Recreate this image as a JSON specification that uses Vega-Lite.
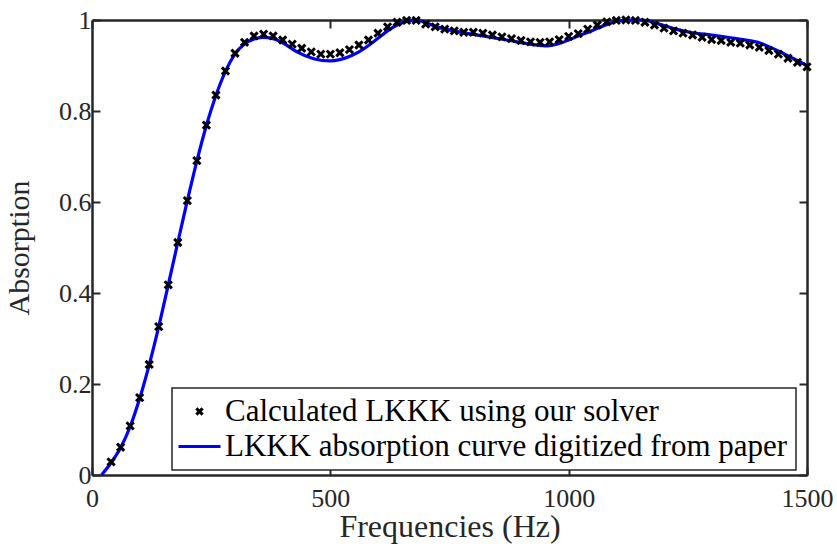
{
  "$schema": "https://vega.github.io/schema/vega-lite/v6.json",
  "width": 715,
  "height": 455,
  "autosize": {"type": "none"},
  "padding": {"left": 92, "top": 20, "right": 30, "bottom": 79},
  "background": "white",
  "config": {
    "view": {"stroke": null},
    "font": "Liberation Serif",
    "axis": {
      "domainColor": "#262626", "domainWidth": 2.5,
      "tickColor": "#262626", "tickWidth": 2, "tickSize": -8,
      "labelFont": "Liberation Serif", "labelFontSize": 26, "labelColor": "#262626", "labelFlush": false,
      "titleFont": "Liberation Serif", "titleFontSize": 32, "titleFontWeight": "normal", "titleColor": "#262626",
      "grid": false
    }
  },
  "datasets": {
    "paper": [
      {"f": 20, "a": 0.0}, {"f": 40, "a": 0.027}, {"f": 60, "a": 0.060}, {"f": 80, "a": 0.106},
      {"f": 100, "a": 0.168}, {"f": 120, "a": 0.242}, {"f": 140, "a": 0.326}, {"f": 160, "a": 0.418},
      {"f": 180, "a": 0.511}, {"f": 200, "a": 0.603}, {"f": 220, "a": 0.690}, {"f": 240, "a": 0.768},
      {"f": 260, "a": 0.834}, {"f": 280, "a": 0.887}, {"f": 300, "a": 0.925}, {"f": 320, "a": 0.947},
      {"f": 340, "a": 0.958}, {"f": 357, "a": 0.962}, {"f": 380, "a": 0.959}, {"f": 400, "a": 0.950},
      {"f": 430, "a": 0.930}, {"f": 465, "a": 0.915}, {"f": 500, "a": 0.910}, {"f": 520, "a": 0.913},
      {"f": 540, "a": 0.920}, {"f": 560, "a": 0.930}, {"f": 580, "a": 0.944}, {"f": 600, "a": 0.960},
      {"f": 620, "a": 0.976}, {"f": 640, "a": 0.989}, {"f": 660, "a": 0.997}, {"f": 680, "a": 1.0},
      {"f": 700, "a": 0.994}, {"f": 720, "a": 0.986}, {"f": 770, "a": 0.974}, {"f": 820, "a": 0.965},
      {"f": 870, "a": 0.956}, {"f": 925, "a": 0.946}, {"f": 955, "a": 0.943}, {"f": 985, "a": 0.950},
      {"f": 1020, "a": 0.965}, {"f": 1050, "a": 0.977}, {"f": 1085, "a": 0.992}, {"f": 1120, "a": 1.0},
      {"f": 1155, "a": 1.0}, {"f": 1190, "a": 0.991}, {"f": 1225, "a": 0.980}, {"f": 1260, "a": 0.972},
      {"f": 1300, "a": 0.967}, {"f": 1365, "a": 0.957}, {"f": 1400, "a": 0.950}, {"f": 1435, "a": 0.934},
      {"f": 1470, "a": 0.916}, {"f": 1500, "a": 0.900}
    ],
    "calc": [
      {"f": 40, "a": 0.029}, {"f": 60, "a": 0.061}, {"f": 80, "a": 0.108}, {"f": 100, "a": 0.170},
      {"f": 120, "a": 0.243}, {"f": 140, "a": 0.326}, {"f": 160, "a": 0.418}, {"f": 180, "a": 0.511},
      {"f": 200, "a": 0.603}, {"f": 220, "a": 0.691}, {"f": 240, "a": 0.769}, {"f": 260, "a": 0.835},
      {"f": 280, "a": 0.888}, {"f": 300, "a": 0.927}, {"f": 320, "a": 0.951}, {"f": 340, "a": 0.965},
      {"f": 360, "a": 0.969}, {"f": 380, "a": 0.965}, {"f": 400, "a": 0.956}, {"f": 420, "a": 0.947},
      {"f": 440, "a": 0.938}, {"f": 460, "a": 0.930}, {"f": 480, "a": 0.925}, {"f": 500, "a": 0.925},
      {"f": 520, "a": 0.928}, {"f": 540, "a": 0.935}, {"f": 560, "a": 0.945}, {"f": 580, "a": 0.956},
      {"f": 600, "a": 0.971}, {"f": 620, "a": 0.985}, {"f": 640, "a": 0.995}, {"f": 660, "a": 0.999},
      {"f": 680, "a": 0.999}, {"f": 700, "a": 0.991}, {"f": 720, "a": 0.985}, {"f": 740, "a": 0.980},
      {"f": 760, "a": 0.976}, {"f": 780, "a": 0.973}, {"f": 800, "a": 0.973}, {"f": 820, "a": 0.971},
      {"f": 840, "a": 0.967}, {"f": 860, "a": 0.963}, {"f": 880, "a": 0.959}, {"f": 900, "a": 0.955},
      {"f": 920, "a": 0.952}, {"f": 940, "a": 0.951}, {"f": 960, "a": 0.952}, {"f": 980, "a": 0.957},
      {"f": 1000, "a": 0.964}, {"f": 1020, "a": 0.970}, {"f": 1040, "a": 0.980}, {"f": 1060, "a": 0.989},
      {"f": 1080, "a": 0.996}, {"f": 1100, "a": 0.999}, {"f": 1120, "a": 1.0}, {"f": 1140, "a": 0.999},
      {"f": 1160, "a": 0.995}, {"f": 1180, "a": 0.989}, {"f": 1200, "a": 0.982}, {"f": 1220, "a": 0.976},
      {"f": 1240, "a": 0.971}, {"f": 1260, "a": 0.967}, {"f": 1280, "a": 0.962}, {"f": 1300, "a": 0.957},
      {"f": 1320, "a": 0.955}, {"f": 1340, "a": 0.951}, {"f": 1360, "a": 0.949}, {"f": 1380, "a": 0.945},
      {"f": 1400, "a": 0.940}, {"f": 1420, "a": 0.933}, {"f": 1440, "a": 0.925}, {"f": 1460, "a": 0.916},
      {"f": 1480, "a": 0.907}, {"f": 1500, "a": 0.897}
    ]
  },
  "layer": [
    {
      "data": {"name": "paper"},
      "mark": {"type": "line", "strokeWidth": 3.2, "interpolate": "monotone"},
      "encoding": {
        "x": {"field": "f", "type": "quantitative", "scale": {"domain": [0, 1500], "nice": false},
              "axis": {"orient": "bottom", "values": [0, 500, 1000, 1500], "format": "d", "title": "Frequencies (Hz)", "labelPadding": 18, "titlePadding": 0}},
        "y": {"field": "a", "type": "quantitative", "scale": {"domain": [0, 1], "nice": false},
              "axis": {"orient": "left", "values": [0, 0.2, 0.4, 0.6, 0.8, 1], "format": "~g", "title": "Absorption", "titleFontSize": 30, "labelPadding": 9, "titlePadding": 24}},
        "color": {
          "datum": "LKKK absorption curve digitized from paper",
          "type": "nominal",
          "scale": {"domain": ["Calculated LKKK using our solver", "LKKK absorption curve digitized from paper"], "range": ["#000000", "#0000ff"]},
          "legend": {
            "orient": "none", "legendX": 80, "legendY": 368, "title": null,
            "labelFont": "Liberation Serif", "labelFontSize": 31, "labelColor": "#000000", "labelLimit": 800,
            "strokeColor": "#262626", "fillColor": "white", "padding": 8,
            "symbolSize": 1764, "symbolType": "stroke", "symbolStrokeWidth": 3, "symbolOffset": 4, "rowPadding": 3, "labelOffset": 10,
            "encode": {
              "symbols": {"update": {
                "shape": {"signal": "datum.value === 'Calculated LKKK using our solver' ? 'M-1,-1L1,1M-1,1L1,-1' : 'stroke'"},
                "size": {"signal": "datum.value === 'Calculated LKKK using our solver' ? 40 : 1764"},
                "strokeWidth": {"signal": "datum.value === 'Calculated LKKK using our solver' ? 3 : 3.2"}
              }},
              "legend": {"update": {"strokeWidth": {"value": 1.5}}}
            }
          }
        }
      }
    },
    {
      "data": {"name": "calc"},
      "mark": {"type": "point", "shape": "M-1,-1L1,1M-1,1L1,-1", "filled": false, "strokeWidth": 3, "size": 52, "opacity": 1},
      "encoding": {
        "x": {"field": "f", "type": "quantitative", "scale": {"domain": [0, 1500], "nice": false},
              "axis": {"orient": "top", "values": [0, 500, 1000, 1500], "labels": false, "title": null}},
        "y": {"field": "a", "type": "quantitative", "scale": {"domain": [0, 1], "nice": false},
              "axis": {"orient": "right", "values": [0, 0.2, 0.4, 0.6, 0.8, 1], "labels": false, "title": null}},
        "color": {"datum": "Calculated LKKK using our solver", "type": "nominal"}
      }
    }
  ],
  "resolve": {"scale": {"x": "independent", "y": "independent"}, "axis": {"x": "independent", "y": "independent"}}
}
